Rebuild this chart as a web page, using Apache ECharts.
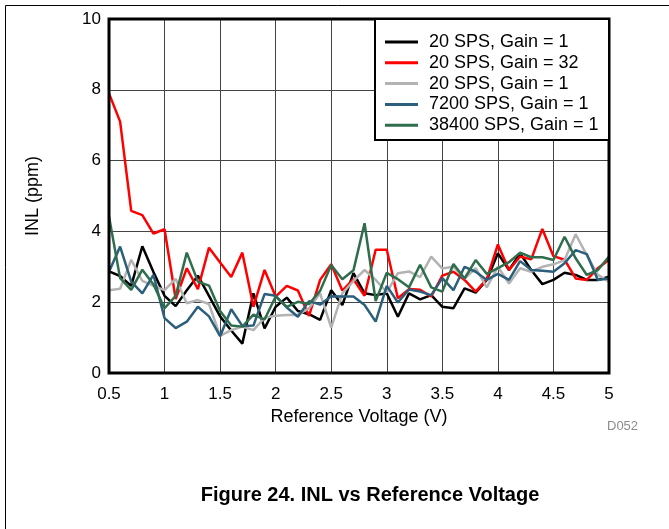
<!DOCTYPE html>
<html>
<head>
<meta charset="utf-8">
<script src="https://cdn.jsdelivr.net/npm/echarts@6/dist/echarts.min.js"></script>
<style>html,body{margin:0;padding:0;background:#fff;}#c{width:669px;height:529px;}</style>
</head>
<body>
<div id="c"></div>
<script>
var voltages = [0.5,0.6,0.7,0.8,0.9,1.0,1.1,1.2,1.3,1.4,1.5,1.6,1.7,1.8,1.9,2.0,2.1,2.2,2.3,2.4,2.5,2.6,2.7,2.8,2.9,3.0,3.1,3.2,3.3,3.4,3.5,3.6,3.7,3.8,3.9,4.0,4.1,4.2,4.3,4.4,4.5,4.6,4.7,4.8,4.9,5.0];
var sps20g1 = [2.87,2.74,2.46,3.58,2.85,2.18,1.89,2.34,2.75,2.18,1.6,1.2,0.83,2.25,1.26,1.87,2.13,1.75,1.66,1.5,2.34,1.92,2.82,2.25,2.2,2.25,1.59,2.25,2.08,2.2,1.87,1.83,2.39,2.27,2.63,3.38,2.91,3.38,2.91,2.51,2.63,2.83,2.77,2.63,2.63,2.72];
var sps20g32 = [7.9,7.1,4.58,4.46,3.94,4.06,2.09,2.96,2.37,3.54,3.12,2.71,3.4,1.87,2.91,2.16,2.46,2.33,1.61,2.63,3.07,2.33,2.65,2.18,3.48,3.48,2.11,2.37,2.35,2.16,2.75,2.86,2.63,2.3,2.65,3.63,2.91,3.29,3.21,4.07,3.3,3.2,2.67,2.63,2.96,3.2];
var sps20g1b = [2.34,2.38,3.2,2.6,2.46,2.34,2.66,1.97,2.06,1.95,1.05,1.21,1.31,1.21,1.56,1.62,1.64,1.64,1.83,2.25,1.28,2.25,2.6,2.91,2.63,2.28,2.82,2.87,2.71,3.29,2.95,3.0,2.67,2.96,2.42,3.0,2.53,2.96,2.86,3.0,3.07,3.19,3.92,3.33,2.77,2.58];
var sps7200 = [2.86,3.57,2.58,2.25,2.77,1.55,1.27,1.45,1.87,1.6,1.04,1.8,1.33,1.34,2.23,2.18,1.85,1.59,2.03,1.93,2.17,2.16,2.16,1.92,1.45,2.46,1.99,2.36,2.3,2.2,2.68,2.34,3.0,2.86,2.63,2.8,2.63,3.16,2.91,2.89,2.86,3.1,3.47,3.36,2.63,2.67];
var sps38400 = [4.42,2.68,2.35,2.92,2.5,1.83,2.18,3.4,2.58,2.47,1.75,1.34,1.31,1.65,1.51,2.16,1.87,2.01,1.95,2.32,3.05,2.65,2.9,4.23,2.03,2.83,2.65,2.42,3.06,2.42,2.3,3.08,2.67,3.19,2.8,2.96,3.13,3.4,3.27,3.27,3.19,3.85,3.24,2.77,2.91,3.29];
var seriesNames = ['20 SPS, Gain = 1','20 SPS, Gain = 32','20 SPS, Gain = 1 ','7200 SPS, Gain = 1','38400 SPS, Gain = 1'];
var seriesColors = ['#000000','#ff0000','#b3b3b3','#2b5f7c','#2e6e4c'];
var seriesValues = [sps20g1, sps20g32, sps20g1b, sps7200, sps38400];

function pairs(vals){ return voltages.map(function(v,i){ return [v, vals[i]]; }); }

var chart = echarts.init(document.getElementById('c'), null, {renderer:'canvas'});
var font = 'Liberation Sans, Arial, sans-serif';
chart.setOption({
  animation: false,
  backgroundColor: '#ffffff',
  grid: {left:109, top:19, width:500, height:354, show:true, borderColor:'#000', borderWidth:3, backgroundColor:'transparent', z:3},
  xAxis: {
    type:'value', min:0.5, max:5, interval:0.5,
    axisLine:{show:false}, axisTick:{show:false},
    splitLine:{show:true, lineStyle:{color:'#444', width:1}},
    axisLabel:{color:'#000', fontSize:17, fontFamily:font, margin:13},
    name:'Reference Voltage (V)', nameLocation:'middle', nameGap:35,
    nameTextStyle:{color:'#000', fontSize:18, fontFamily:font}
  },
  yAxis: {
    type:'value', min:0, max:10, interval:2,
    axisLine:{show:false}, axisTick:{show:false},
    splitLine:{show:true, lineStyle:{color:'#444', width:1}},
    axisLabel:{color:'#000', fontSize:17, fontFamily:font, margin:8},
    name:'INL (ppm)', nameLocation:'middle', nameGap:67,
    nameTextStyle:{color:'#000', fontSize:18, fontFamily:font}
  },
  legend: {
    orient:'vertical', left:385, top:32, padding:0, z:10,
    icon:'rect', itemWidth:33, itemHeight:3, itemGap:0.8,
    data: seriesNames,
    textStyle:{color:'#000', fontSize:18, fontFamily:font, lineHeight:20, padding:[0,0,0,6]}
  },
  graphic: [
    {type:'rect', z:5, shape:{x:375, y:19, width:234, height:121}, style:{fill:'#fff', stroke:'#000', lineWidth:2}},
    {type:'line', z:5, shape:{x1:5.5, y1:5.5, x2:669, y2:5.5}, style:{stroke:'#000', lineWidth:1}},
    {type:'line', z:5, shape:{x1:5.5, y1:5.5, x2:5.5, y2:529}, style:{stroke:'#000', lineWidth:1}},
    {type:'text', z:5, x:607, y:426, style:{text:'D052', fill:'#8c8c8c', font:'13px Liberation Sans, Arial, sans-serif', verticalAlign:'middle'}},
    {type:'text', z:5, x:370, y:495, style:{text:'Figure 24. INL vs Reference Voltage', fill:'#000', font:'bold 20px Liberation Sans, Arial, sans-serif', align:'center', verticalAlign:'middle'}}
  ],
  series: seriesValues.map(function(vals, i){
    return {
      type:'line', name: seriesNames[i], data: pairs(vals),
      symbol:'none', showSymbol:false,
      lineStyle:{color: seriesColors[i], width:2.5},
      itemStyle:{color: seriesColors[i]},
      z: 2
    };
  })
});
</script>
</body>
</html>
